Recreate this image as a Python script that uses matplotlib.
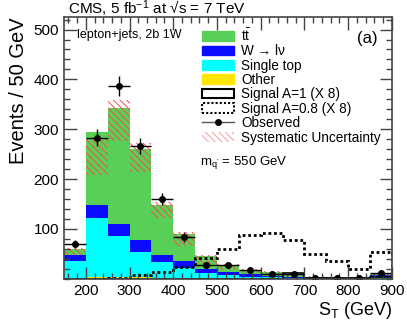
import numpy as np
import matplotlib
matplotlib.use('Agg')
import matplotlib.pyplot as plt
from matplotlib.patches import Patch
from matplotlib.lines import Line2D
from matplotlib.ticker import MultipleLocator

plt.rcParams['font.family'] = ['Liberation Sans', 'DejaVu Sans']
plt.rcParams['mathtext.fontset'] = 'custom'
plt.rcParams['mathtext.rm'] = 'Liberation Sans'
plt.rcParams['mathtext.it'] = 'Liberation Sans:italic'
plt.rcParams['mathtext.sf'] = 'Liberation Sans'
plt.rcParams['hatch.linewidth'] = 0.7

# S_T bins (GeV)
edges = np.arange(150, 901, 50)

# stacked backgrounds, cumulative tops
other_top = [0, 3, 3, 3, 2, 1, 1, 0.5, 0.5, 0.3, 0.2, 0.1, 0.1, 0.1, 0.2]
stop_top = [36, 123, 86, 53, 33, 22, 11, 7, 4, 3, 2, 1, 1, 1, 3]
wjets_top = [47, 148, 110, 78, 47, 35, 19, 13, 9, 6, 4, 2, 2, 2, 7]
total = [60, 294, 343, 260, 148, 90, 45, 28, 17, 14, 8, 4, 3, 3, 9]

# systematic band (low, high)
syst_lo = [47, 208, 277, 215, 122, 66, 30, 18, 12, 9, 5, 2, 1, 1, 5]
syst_hi = [62, 283, 358, 273, 155, 93, 48, 29, 19, 15, 10, 5, 4, 4, 11]

observed = [70, 283, 387, 266, 160, 84, 27, 27, 18, 10, 9, 1, 1, 1, 11]

signal_a1 = [0, 0, 0, 0, 0, 0, 0, 0, 0, 0, 12, 1.5, 1.5, 1.5, 3]
signal_a08 = [0, 0, 2, 8, 13, 23, 41, 60, 87, 91, 77, 49, 35, 20, 53]

c_tt = '#58d058'
c_w = '#0a0aff'
c_st = '#00ffff'
c_other = '#ffe600'
c_syst = '#ff4a4a'

left = edges[:-1]
w = 50
other_top = np.array(other_top)
stop_top = np.array(stop_top)
wjets_top = np.array(wjets_top)
total = np.array(total)

fig = plt.figure(figsize=(4.07, 3.22), dpi=100)
ax = fig.add_axes([0.157, 0.134, 0.806, 0.813])

ax.bar(left, other_top, width=w, align='edge', color=c_other, lw=0)
ax.bar(left, stop_top - other_top, bottom=other_top, width=w, align='edge', color=c_st, lw=0)
ax.bar(left, wjets_top - stop_top, bottom=stop_top, width=w, align='edge', color=c_w, lw=0)
ax.bar(left, total - wjets_top, bottom=wjets_top, width=w, align='edge', color=c_tt, lw=0)

ax.bar(left, np.array(syst_hi) - np.array(syst_lo), bottom=syst_lo, width=w,
       align='edge', fill=False, hatch='\\\\\\\\\\', edgecolor=c_syst, lw=0)

ax.stairs(signal_a1, edges, color='black', lw=1.2)
ax.stairs(signal_a08, edges, color='black', lw=2, ls=(0, (1, 1)))

centers = left + w / 2
obs = np.array(observed, dtype=float)
ax.errorbar(centers, obs, xerr=w / 2, yerr=np.sqrt(obs), fmt='o', color='black',
            ms=4, lw=1, capsize=0)

ax.set_xlim(150, 900)
ax.set_ylim(0, 525)
ax.xaxis.set_major_locator(MultipleLocator(100))
ax.xaxis.set_minor_locator(MultipleLocator(20))
ax.yaxis.set_major_locator(MultipleLocator(100))
ax.yaxis.set_minor_locator(MultipleLocator(20))
ax.set_yticks([100, 200, 300, 400, 500])
ax.tick_params(which='both', direction='in', top=True, right=True, labelsize=11, color='#444444')
ax.tick_params(which='major', length=9, width=1)
ax.tick_params(which='minor', length=4.5, width=1)
for s in ax.spines.values():
    s.set_color('#444444')
    s.set_linewidth(1.2)

ax.set_ylabel('Events / 50 GeV', fontsize=14.5, loc='top', labelpad=4)
ax.set_xlabel(r'S$_{\mathrm{T}}$ (GeV)', fontsize=13, loc='right', labelpad=2)

fig.text(0.167, 0.955, 'CMS, 5 fb$^{-1}$ at \u221as = 7 TeV', fontsize=11, va='baseline')
ax.text(0.04, 0.955, 'lepton+jets, 2b 1W', transform=ax.transAxes, fontsize=9, va='top')
ax.text(0.955, 0.945, '(a)', transform=ax.transAxes, fontsize=12, va='top', ha='right')
ax.text(0.415, 0.443, r"m$_{\mathrm{q'}}$ = 550 GeV", transform=ax.transAxes, fontsize=9.5, va='center')

handles = [
    Patch(facecolor=c_tt, edgecolor=c_tt),
    Patch(facecolor=c_w, edgecolor=c_w),
    Patch(facecolor=c_st, edgecolor=c_st),
    Patch(facecolor=c_other, edgecolor=c_other),
    Patch(facecolor='white', edgecolor='black', lw=1.5),
    Patch(facecolor='white', edgecolor='black', lw=1.5, ls=(0, (1, 1))),
    Line2D([], [], color='#555555', lw=1, marker='o', ms=4, mfc='black', mec='black'),
    Patch(facecolor='white', edgecolor='#ff9a9a', hatch='\\\\\\\\\\', lw=0),
]
labels = [r'$\mathrm{t\bar{t}}$', 'W \u2192 l\u03bd', 'Single top', 'Other',
          'Signal A=1 (X 8)', 'Signal A=0.8 (X 8)', 'Observed', 'Systematic Uncertainty']
ax.legend(handles, labels, loc='upper left', bbox_to_anchor=(0.42, 0.962), frameon=False,
          fontsize=9.8, handlelength=2.4, handleheight=0.7, handletextpad=0.5,
          labelspacing=0.03, borderpad=0, borderaxespad=0)

fig.savefig('out.png', dpi=100)
